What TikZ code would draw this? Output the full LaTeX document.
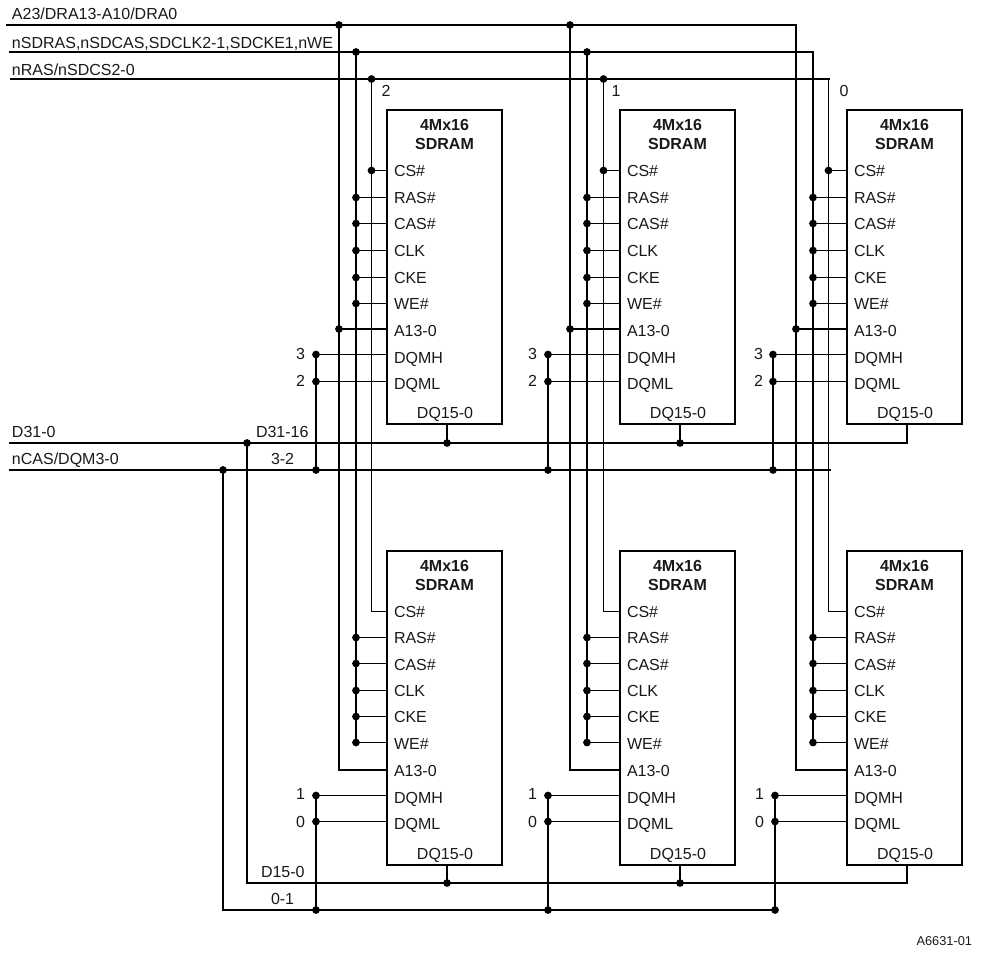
\documentclass[tikz,border=0pt]{standalone}
\usepackage{fontspec}
\setmainfont{Liberation Sans}
\tikzset{
  thickwire/.style={line width=1.5pt,line cap=rect,line join=miter},
  thinwire/.style={line width=0.75pt,line join=miter},
  chipbox/.style={draw,line width=1.5pt,rectangle,inner sep=0pt,outer sep=0pt,minimum width=86.25pt,minimum height=235.5pt,anchor=north west},
  txt/.style={inner sep=0pt,outer sep=0pt,font=\fontsize{12}{14}\selectfont,text=black!90},
  lbl/.style={txt,anchor=base west},
  lblr/.style={txt,anchor=base east},
  lblc/.style={txt,anchor=base},
  ttl/.style={txt,anchor=base,font=\fontsize{12}{14}\selectfont\bfseries},
  jdot/.style={fill=black,radius=2.9pt}
}
\newcommand{\chipunit}[3]{%
  \node[chipbox] (#1) at (#2,#3) {};
  \path (#2+57.5,#3+20) node[ttl] (#1t1) {4Mx16};
  \path (#2+57.5,#3+39) node[ttl] (#1t2) {SDRAM};
  \coordinate (#1DQ) at (#2+60,#3+314);
}
\newcommand{\pinlabel}[5]{% chip, key, x, baseline y, text
  \path (#3+7,#4) node[lbl] (#1#2) {#5};
}
\begin{document}
\begin{tikzpicture}[x=0.75pt,y=-0.75pt]
\useasboundingbox (0,0) rectangle (988,956);

% bus labels
\node[lbl] (lA) at (12,20) {A23/DRA13-A10/DRA0};
\node[lbl] (lB) at (12,48.5) {nSDRAS,nSDCAS,SDCLK2-1,SDCKE1,nWE};
\node[lbl] (lC) at (12,75.5) {nRAS/nSDCS2-0};
\node[lbl] (lD) at (12,437) {D31-0};
\node[lbl] (lE) at (12,464) {nCAS/DQM3-0};
\node[lbl] (lD1) at (256,437) {D31-16};
\node[lbl] (lE1) at (271,464) {3-2};
\node[lbl] (lD2) at (261,877) {D15-0};
\node[lbl] (lE2) at (271,904) {0-1};
\node[txt,anchor=base east,font=\fontsize{9.6}{12}\selectfont] (lid) at (972,945) {A6631-01};
\node[lblc] (cs2) at (386,97) {2};
\node[lblc] (cs1) at (616,97) {1};
\node[lblc] (cs0) at (844,97) {0};

% bus ends
\coordinate (Astart) at (7,25);
\coordinate (Bstart) at (10,52);
\coordinate (Cstart) at (11,79);
\coordinate (Dstart) at (10,443);
\coordinate (Estart) at (10,470);
\coordinate (Eend) at (830,470);
\coordinate (Dlow) at (247,883);
\coordinate (Elow) at (223,910);
\coordinate (Dtap) at (247,443);
\coordinate (Etap) at (223,470);

\foreach \c/\xl/\xa/\xb/\xq/\xql/\xc in {1/387/339/356/316/316/371.5, 2/620/570/587/548/548/603.5, 3/847/796/813/773/775/828.5}{
  \chipunit{U\c}{\xl}{110}
  \chipunit{L\c}{\xl}{551}
  % pins: upper
  \foreach \k/\t/\yp/\ytx in {CS/CS\#/170.5/176.5,RAS/RAS\#/197.5/203,CAS/CAS\#/223.5/229.5,CLK/CLK/250.5/256,CKE/CKE/277.5/283,WE/WE\#/303.5/309.5,A/A13-0/329/336,H/DQMH/354.5/363,L/DQML/381.5/389}{
    \pinlabel{U\c}{\k}{\xl}{\ytx}{\t}
    \coordinate (U\c p\k) at (\xl,\yp);
  }
  \foreach \k/\t/\yp/\ytx in {CS/CS\#/611.5/617,RAS/RAS\#/637.5/643.5,CAS/CAS\#/663.5/670,CLK/CLK/690.5/696,CKE/CKE/716.5/722,WE/WE\#/742.5/749,A/A13-0/770/776,H/DQMH/795.5/803,L/DQML/821.5/829}{
    \pinlabel{L\c}{\k}{\xl}{\ytx}{\t}
    \coordinate (L\c p\k) at (\xl,\yp);
  }
  \node[txt,anchor=base] (U\c dq) at (\xl+58,418) {DQ15-0};
  \node[txt,anchor=base] (L\c dq) at (\xl+58,859) {DQ15-0};
  % rail tops
  \coordinate (a\c) at (\xa,25);
  \coordinate (b\c) at (\xb,52);
  \coordinate (c\c) at (\xc,79);
  \coordinate (qu\c) at (\xq,470);
  \coordinate (ql\c) at (\xql,910);
  \coordinate (du\c) at (\xl+60,443);
  \coordinate (dl\c) at (\xl+60,883);
  % address rail
  \draw[thickwire] (a\c) -- (a\c |- L\c pA) -- (L\c pA);
  \draw[thickwire] (a\c |- U\c pA) -- (U\c pA);
  \fill[jdot] (a\c |- U\c pA) circle;
  % control rail
  \draw[thickwire] (b\c) -- (b\c |- L\c pWE);
  \foreach \k in {RAS,CAS,CLK,CKE,WE}{
    \draw[thinwire] (b\c |- U\c p\k) -- (U\c p\k);
    \fill[jdot] (b\c |- U\c p\k) circle;
    \draw[thinwire] (b\c |- L\c p\k) -- (L\c p\k);
    \fill[jdot] (b\c |- L\c p\k) circle;
  }
  % chip select rail
  \draw[thinwire] (c\c) -- (c\c |- L\c pCS) -- (L\c pCS);
  \draw[thinwire] (c\c |- U\c pCS) -- (U\c pCS);
  \fill[jdot] (c\c |- U\c pCS) circle;
  % DQM
  \draw[thickwire] (qu\c) -- (qu\c |- U\c pH);
  \draw[thickwire] (ql\c) -- (ql\c |- L\c pH);
  \foreach \k in {H,L}{
    \draw[thinwire] (qu\c |- U\c p\k) -- (U\c p\k);
    \fill[jdot] (qu\c |- U\c p\k) circle;
    \draw[thinwire] (ql\c |- L\c p\k) -- (L\c p\k);
    \fill[jdot] (ql\c |- L\c p\k) circle;
  }
  \fill[jdot] (qu\c) circle;
  \fill[jdot] (ql\c) circle;
  % DQ
  \draw[thickwire] (U\c DQ) -- (du\c);
  \draw[thickwire] (L\c DQ) -- (dl\c);
}
\node[lblr] (n3a) at (305,359) {3};
\node[lblr] (n2a) at (305,386) {2};
\node[lblr] (n1a) at (305,799) {1};
\node[lblr] (n0a) at (305,827) {0};
\node[lblr] (n3b) at (537,359) {3};
\node[lblr] (n2b) at (537,386) {2};
\node[lblr] (n1b) at (537,799) {1};
\node[lblr] (n0b) at (537,827) {0};
\node[lblr] (n3c) at (763,359) {3};
\node[lblr] (n2c) at (763,386) {2};
\node[lblr] (n1c) at (764,799) {1};
\node[lblr] (n0c) at (764,827) {0};

% horizontal buses
\draw[thickwire] (Astart) -- (a3);
\draw[thickwire] (Bstart) -- (b3);
\draw[thickwire] (Cstart) -- (c3);
\draw[thickwire] (Dstart) -- (du3);
\draw[thickwire] (Estart) -- (Eend);
\draw[thickwire] (Dtap) -- (Dlow) -- (dl3);
\draw[thickwire] (Etap) -- (Elow) -- (ql3);
% junction dots
\foreach \p in {a1,a2,b1,b2,c1,c2,du1,du2,dl1,dl2,Dtap,Etap}{
  \fill[jdot] (\p) circle;
}
\end{tikzpicture}
\end{document}
